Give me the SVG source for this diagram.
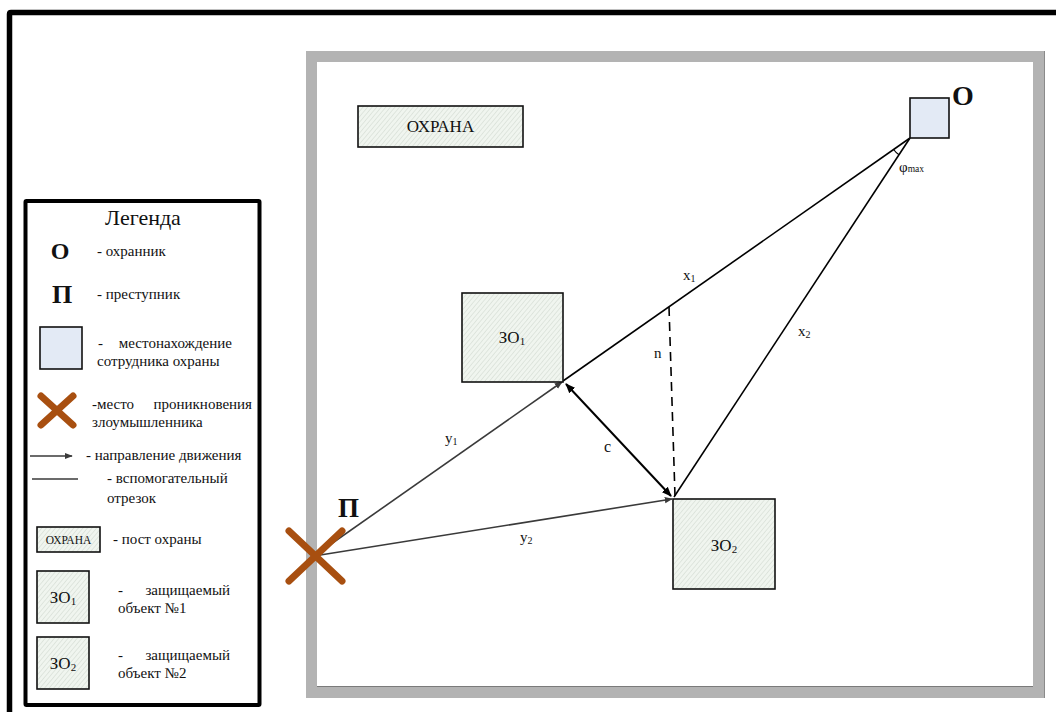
<svg xmlns="http://www.w3.org/2000/svg" width="1056" height="712" viewBox="0 0 1056 712">
  <style>
    text { font-family: "Liberation Serif", "Times New Roman", serif; fill: #111; }
    .lg { font-size: 15px; }
    .bold { font-weight: bold; }
    .hatch { fill: url(#hatch); stroke: #111; stroke-width: 1.6; }
    .guard { fill: #e3eaf5; stroke: #111; stroke-width: 1.6; }
    .cross { stroke: #a84f10; stroke-width: 7; stroke-linecap: round; }
    .move { stroke: #3a3a3a; stroke-width: 1.6; fill: none; marker-end: url(#arrowGray); }
    .aux { stroke: #000; stroke-width: 1.6; fill: none; }
  </style>
  <defs>
    <pattern id="hatch" width="3.5" height="3.5" patternUnits="userSpaceOnUse" patternTransform="rotate(40)">
      <rect width="3.5" height="3.5" fill="#f0f5ef"/>
      <line x1="0" y1="0" x2="0" y2="3.5" stroke="#c9d3c9" stroke-width="0.9"/>
    </pattern>
    <marker id="arrowGray" viewBox="0 0 10 10" refX="9" refY="5" markerWidth="8" markerHeight="8" markerUnits="userSpaceOnUse" orient="auto">
      <path d="M0,1 L10,5 L0,9 z" fill="#3a3a3a"/>
    </marker>
    <marker id="arrowBlackEnd" viewBox="0 0 10 10" refX="9" refY="5" markerWidth="10" markerHeight="10" markerUnits="userSpaceOnUse" orient="auto">
      <path d="M0,1 L10,5 L0,9 z" fill="#000"/>
    </marker>
    <marker id="arrowBlackStart" viewBox="0 0 10 10" refX="1" refY="5" markerWidth="10" markerHeight="10" markerUnits="userSpaceOnUse" orient="auto">
      <path d="M10,1 L0,5 L10,9 z" fill="#000"/>
    </marker>
  </defs>

  <rect width="1056" height="712" fill="#fff"/>

  <!-- outer page frame -->
  <path d="M9.5,712 V14 Q9.5,12.5 11,12.5 H1060" fill="none" stroke="#000" stroke-width="5.5"/>

  <!-- guarded territory -->
  <g id="territory">
    <rect x="311.5" y="56.5" width="727" height="636" fill="#fff" stroke="#b3b3b3" stroke-width="11"/>
    <line x1="317" y1="686.5" x2="1033" y2="686.5" stroke="#7a7a7a" stroke-width="1"/>
    <line x1="1044.5" y1="51" x2="1044.5" y2="698" stroke="#8a8a8a" stroke-width="1"/>
  </g>

  <!-- connectors -->
  <g id="connectors">
    <line class="aux" x1="910" y1="138" x2="563" y2="381"/>
    <line class="aux" x1="910" y1="138" x2="674" y2="497"/>
    <path d="M893.6,149.5 A20,20 0 0 0 899,154.7" fill="none" stroke="#000" stroke-width="1.2"/>
    <line class="move" x1="314" y1="556" x2="562" y2="382"/>
    <line class="move" x1="314" y1="556" x2="672" y2="499"/>
    <line x1="566" y1="384" x2="671" y2="496" stroke="#000" stroke-width="2" marker-start="url(#arrowBlackStart)" marker-end="url(#arrowBlackEnd)"/>
    <line x1="669" y1="307" x2="675" y2="496" stroke="#000" stroke-width="1.6" stroke-dasharray="9,6"/>
    <text x="683" y="280" font-size="15">x<tspan font-size="10" dy="2">1</tspan></text>
    <text x="798" y="336" font-size="15">x<tspan font-size="10" dy="2">2</tspan></text>
    <text x="445" y="443" font-size="15">y<tspan font-size="10" dy="2">1</tspan></text>
    <text x="520" y="542" font-size="15">y<tspan font-size="10" dy="2">2</tspan></text>
    <text x="604" y="452" font-size="16">c</text>
    <text x="654" y="358" font-size="15">n</text>
    <text x="899" y="172" font-size="15">φ<tspan font-size="9.5" dy="0">max</tspan></text>
  </g>

  <!-- guard post -->
  <g id="post">
    <rect class="hatch" x="358" y="106" width="165" height="41"/>
    <text x="440.5" y="132" font-size="17" text-anchor="middle">ОХРАНА</text>
  </g>

  <!-- guard position -->
  <g id="guard">
    <rect class="guard" x="910" y="98" width="39" height="40"/>
    <text class="bold" x="952" y="105" font-size="28">О</text>
  </g>

  <!-- protected objects -->
  <g id="object1">
    <rect class="hatch" x="462" y="293" width="101" height="89"/>
    <text x="512" y="343" font-size="17" text-anchor="middle">ЗО<tspan font-size="11" dy="2">1</tspan></text>
  </g>
  <g id="object2">
    <rect class="hatch" x="673" y="499" width="102" height="90"/>
    <text x="724" y="551" font-size="17" text-anchor="middle">ЗО<tspan font-size="11" dy="2">2</tspan></text>
  </g>

  <!-- intrusion point -->
  <g id="intruder">
    <line class="cross" x1="289" y1="531" x2="342" y2="581"/>
    <line class="cross" x1="342" y1="531" x2="289" y2="581"/>
    <text class="bold" x="338" y="517" font-size="27">П</text>
  </g>

  <!-- legend -->
  <g id="legend">
    <rect x="25.5" y="201" width="234" height="504" fill="#fff" stroke="#000" stroke-width="4" rx="1"/>
    <text x="143" y="225" font-size="22" text-anchor="middle">Легенда</text>

    <text class="bold" x="60" y="259" font-size="24" text-anchor="middle">О</text>
    <text class="lg" x="97" y="256">- охранник</text>

    <text class="bold" x="62" y="303" font-size="26" text-anchor="middle">П</text>
    <text class="lg" x="97" y="299">- преступник</text>

    <rect class="guard" x="40" y="327" width="42" height="42"/>
    <text class="lg" x="98" y="348">-</text>
    <text class="lg" x="232" y="348" text-anchor="end">местонахождение</text>
    <text class="lg" x="97" y="366">сотрудника охраны</text>

    <line class="cross" x1="41" y1="396" x2="73" y2="425"/>
    <line class="cross" x1="73" y1="396" x2="41" y2="425"/>
    <text class="lg" x="92" y="409">-место</text>
    <text class="lg" x="252" y="409" text-anchor="end">проникновения</text>
    <text class="lg" x="92" y="427">злоумышленника</text>

    <line class="move" x1="30" y1="456" x2="72" y2="456"/>
    <text class="lg" x="86" y="460">- направление движения</text>

    <line x1="32" y1="479" x2="78" y2="479" stroke="#3a3a3a" stroke-width="1.4"/>
    <text class="lg" x="107" y="483">- вспомогательный</text>
    <text class="lg" x="107" y="503">отрезок</text>

    <rect class="hatch" x="37" y="527" width="63" height="25"/>
    <text x="68.5" y="544" font-size="11.5" text-anchor="middle">ОХРАНА</text>
    <text class="lg" x="113" y="544">- пост охраны</text>

    <rect class="hatch" x="37" y="571" width="52" height="52"/>
    <text x="63" y="603" font-size="17" text-anchor="middle">ЗО<tspan font-size="11" dy="2">1</tspan></text>
    <text class="lg" x="118" y="595">-</text>
    <text class="lg" x="230" y="595" text-anchor="end">защищаемый</text>
    <text class="lg" x="118" y="613">объект №1</text>

    <rect class="hatch" x="37" y="637" width="52" height="52"/>
    <text x="63" y="669" font-size="17" text-anchor="middle">ЗО<tspan font-size="11" dy="2">2</tspan></text>
    <text class="lg" x="118" y="660">-</text>
    <text class="lg" x="230" y="660" text-anchor="end">защищаемый</text>
    <text class="lg" x="118" y="678">объект №2</text>
  </g>
</svg>
